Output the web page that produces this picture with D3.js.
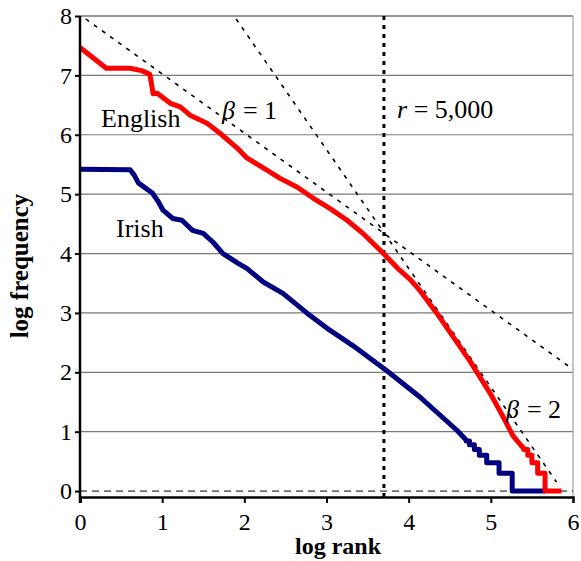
<!DOCTYPE html>
<html>
<head>
<meta charset="utf-8">
<script src="https://cdn.jsdelivr.net/npm/d3@7"></script>
<style>
    body { margin: 0; background: #fff; }
    svg text { font-family: "Liberation Serif", "Times New Roman", serif; fill: #000; }
</style>
</head>
<body>
<div id="chart"></div>
<script>
// English curve: [log rank, log frequency]
const englishData = [
    [0, 7.47], [0.32, 7.12], [0.61, 7.12], [0.75, 7.08], [0.85, 7.02], [0.89, 6.69],
    [0.94, 6.7], [1.1, 6.53], [1.22, 6.47], [1.34, 6.33], [1.54, 6.2], [1.7, 6.03],
    [1.91, 5.78], [2.03, 5.61], [2.27, 5.41], [2.43, 5.27], [2.64, 5.12], [2.84, 4.93],
    [3.04, 4.76], [3.25, 4.56], [3.45, 4.33], [3.65, 4.06], [3.89, 3.72], [4.02, 3.56],
    [4.14, 3.37], [4.34, 3.0], [4.54, 2.6], [4.75, 2.18], [4.99, 1.65], [5.13, 1.3],
    [5.27, 0.93], [5.36, 0.78], [5.4, 0.72], [5.4, 0.699], [5.45, 0.699], [5.45, 0.602],
    [5.5, 0.602], [5.5, 0.477], [5.57, 0.477], [5.57, 0.301], [5.66, 0.301], [5.66, 0],
    [5.86, 0]
];

// Irish curve
const irishData = [
    [0, 5.42], [0.61, 5.41], [0.66, 5.32], [0.71, 5.19], [0.88, 5.02], [0.95, 4.88],
    [1.01, 4.73], [1.13, 4.59], [1.24, 4.56], [1.37, 4.39], [1.5, 4.34], [1.62, 4.19],
    [1.74, 4.0], [1.92, 3.84], [2.03, 3.75], [2.23, 3.52], [2.47, 3.33], [2.76, 3.0],
    [3.04, 2.71], [3.32, 2.45], [3.73, 2.03], [4.14, 1.58], [4.59, 1.02], [4.7, 0.86],
    [4.7, 0.845], [4.74, 0.845], [4.74, 0.778], [4.8, 0.778], [4.8, 0.699], [4.86, 0.699],
    [4.86, 0.602], [4.95, 0.602], [4.95, 0.477], [5.1, 0.477], [5.1, 0.301], [5.26, 0.301],
    [5.26, 0], [5.66, 0]
];

// Reference slopes
const beta1Line = [[0.07, 7.95], [6, 2.05]];
const beta2Line = [[1.9, 7.95], [5.8, 0.15]];

const cutoffRank = 5000;
const xTicks = [0, 1, 2, 3, 4, 5, 6];
const yTicks = [0, 1, 2, 3, 4, 5, 6, 7, 8];

const width = 581;
const height = 561;

const svg = d3.select("#chart")
    .append("svg")
    .attr("width", width)
    .attr("height", height);

const x = d3.scaleLinear().domain([0, 6]).range([80, 573]);
const y = d3.scaleLinear().domain([-0.1, 8]).range([497, 16]);

// Gridlines
svg.selectAll(".grid")
    .data(yTicks.filter(function(d) { return d > 0; }))
    .enter()
    .append("line")
    .attr("x1", x(0))
    .attr("x2", x(6))
    .attr("y1", function(d) { return y(d); })
    .attr("y2", function(d) { return y(d); })
    .attr("stroke", function(d) { return d === 8 ? "#333" : "#7a7a7a"; })
    .attr("stroke-width", 1.2);

// Right border
svg.append("line")
    .attr("x1", x(6)).attr("x2", x(6))
    .attr("y1", y(8)).attr("y2", y(-0.1))
    .attr("stroke", "#a0a0a0")
    .attr("stroke-width", 1.2);

// Dashed zero line
svg.append("line")
    .attr("x1", x(0)).attr("x2", x(6))
    .attr("y1", y(0)).attr("y2", y(0))
    .attr("stroke", "#000")
    .attr("stroke-width", 1)
    .attr("stroke-dasharray", "7,5");

const line = d3.line()
    .x(function(d) { return x(d[0]); })
    .y(function(d) { return y(d[1]); });

// Beta lines
[beta1Line, beta2Line].forEach(function(pts) {
    svg.append("path")
        .attr("d", line(pts))
        .attr("fill", "none")
        .attr("stroke", "#000")
        .attr("stroke-width", 1.6)
        .attr("stroke-dasharray", "4,6");
});

// Rank cutoff
svg.append("line")
    .attr("x1", x(Math.log10(cutoffRank))).attr("x2", x(Math.log10(cutoffRank)))
    .attr("y1", y(8)).attr("y2", y(-0.1))
    .attr("stroke", "#000")
    .attr("stroke-width", 3)
    .attr("stroke-dasharray", "4,5");

// Curves
svg.append("path")
    .attr("d", line(irishData))
    .attr("fill", "none")
    .attr("stroke", "#000080")
    .attr("stroke-width", 5)
    .attr("stroke-linejoin", "round");

svg.append("path")
    .attr("d", line(englishData))
    .attr("fill", "none")
    .attr("stroke", "#ff0000")
    .attr("stroke-width", 5)
    .attr("stroke-linejoin", "round");

// Axes
const xAxis = svg.append("g")
    .attr("transform", "translate(0," + y(-0.1) + ")")
    .call(d3.axisBottom(x).tickValues(xTicks).tickSize(6).tickPadding(10).tickFormat(d3.format("d")));

const yAxis = svg.append("g")
    .attr("transform", "translate(" + x(0) + ",0)")
    .call(d3.axisLeft(y).tickValues(yTicks).tickSize(5).tickPadding(3).tickFormat(d3.format("d")));

[xAxis, yAxis].forEach(function(g) {
    g.select(".domain").attr("stroke", "#000").attr("stroke-width", 2.5);
    g.selectAll(".tick line").attr("stroke", "#000").attr("stroke-width", 2);
    g.selectAll(".tick text")
        .attr("font-family", "Liberation Serif")
        .attr("font-size", 24)
        .attr("fill", "#000");
});
yAxis.select(".domain").attr("d", "M0," + y(8) + "V503");
xAxis.selectAll(".tick").filter(function(d) { return d === 6; }).select("line").remove();

// Axis titles
svg.append("text")
    .attr("x", 338)
    .attr("y", 554)
    .attr("text-anchor", "middle")
    .attr("font-weight", "bold")
    .attr("font-size", 24)
    .text("log rank");

svg.append("text")
    .attr("transform", "translate(28,266) rotate(-90)")
    .attr("text-anchor", "middle")
    .attr("font-weight", "bold")
    .attr("font-size", 25)
    .text("log frequency");

// Annotations
function label(xp, yp, txt) {
    return svg.append("text")
        .attr("x", xp)
        .attr("y", yp)
        .attr("font-size", 26)
        .text(txt);
}

label(101, 127, "English");
label(116, 237, "Irish");

const b1 = svg.append("text").attr("x", 222).attr("y", 119).attr("font-size", 26);
b1.append("tspan").attr("font-style", "italic").text("β");
b1.append("tspan").attr("dx", 8).text("= 1");

const b2 = svg.append("text").attr("x", 506).attr("y", 418).attr("font-size", 26);
b2.append("tspan").attr("font-style", "italic").text("β");
b2.append("tspan").attr("dx", 8).text("= 2");

const rl = svg.append("text").attr("x", 397).attr("y", 118).attr("font-size", 26);
rl.append("tspan").attr("font-style", "italic").text("r");
rl.append("tspan").text(" = 5,000");
</script>
</body>
</html>
